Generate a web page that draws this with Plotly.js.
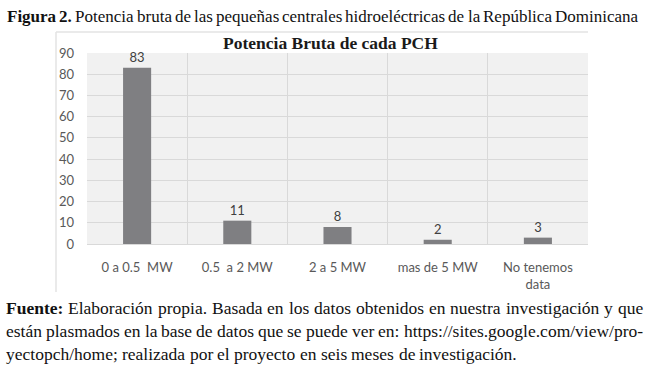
<!DOCTYPE html>
<html>
<head>
<meta charset="utf-8">
<script src="https://cdn.plot.ly/plotly-3.0.1.min.js"></script>
<style>html,body{margin:0;padding:0;background:#fff;}#chart{width:649px;height:384px;}</style>
</head>
<body>
<div id="chart"></div>
<svg id="measure" width="10" height="10" style="position:absolute;left:0;top:0;visibility:hidden"><text id="mtext" x="0" y="0"></text></svg>
<script>
const categories = ["0 a 0.5  MW", "0.5  a 2 MW", "2 a 5 MW", "mas de 5 MW", "No tenemos<br>data"];
const values = [83, 11, 8, 2, 3];
const yTicks = [0, 10, 20, 30, 40, 50, 60, 70, 80, 90];

const chartTitle = "Potencia Bruta de cada PCH";
const captionLabel = "Figura 2.";
const captionText = "Potencia bruta de las pequeñas centrales hidroeléctricas de la República Dominicana";
const footerLabel = "Fuente:";
const footerLines = [
  "Elaboración propia. Basada en los datos obtenidos en nuestra investigación y que",
  "están plasmados en la base de datos que se puede ver en: https://sites.google.com/view/pro-",
  "yectopch/home; realizada por el proyecto en seis meses de investigación."
];

// plot area in pixels
const L = 87, R = 588, T = 53, B = 244, W = 649, H = 384;
const pw = R - L, ph = B - T;
const px = x => (x - L) / pw;
const py = y => (B - y) / ph;

const serif = "Liberation Serif";
const sans = "Lato";

const mtext = document.getElementById("mtext");
function measure(t, size, bold) {
  mtext.setAttribute("style", "font-family:'" + serif + "';font-size:" + size + "px;font-weight:" + (bold ? "bold" : "normal") + ";white-space:pre");
  mtext.textContent = t;
  return mtext.getComputedTextLength();
}

const annotations = [];
function addWord(t, x, y, size, bold) {
  annotations.push({text: bold ? "<b>" + t + "</b>" : t, x: px(x), y: py(y), xref: "paper", yref: "paper",
    xanchor: "left", yanchor: "middle", showarrow: false, borderpad: 0, borderwidth: 0,
    font: {family: serif, size: size, color: "#111"}});
}
// words: array of {t, bold}; justify between x0 and x1 (or natural spacing if x1 null)
function layoutLine(words, x0, x1, y, size) {
  const widths = words.map(w => measure(w.t, size, w.bold));
  const total = widths.reduce((a, b) => a + b, 0);
  const space = measure("a a", size, false) - 2 * measure("a", size, false);
  const gap = (x1 != null && words.length > 1) ? (x1 - x0 - total) / (words.length - 1) : space;
  let x = x0;
  words.forEach((w, i) => { addWord(w.t, x, y, size, w.bold); x += widths[i] + gap; });
}
const toWords = s => s.split(" ").map(t => ({t: t, bold: false}));

layoutLine(captionLabel.split(" ").map(t => ({t: t, bold: true})).concat(toWords(captionText)), 7, 638, 16, 17);
layoutLine([{t: footerLabel, bold: true}].concat(toWords(footerLines[0])), 6, 643, 308, 17.5);
layoutLine(toWords(footerLines[1]), 6, 643, 331, 17.5);
layoutLine(toWords(footerLines[2]), 6, null, 354, 17.5);
mtext.textContent = "";
document.getElementById("measure").remove();

annotations.push({text: "<b>" + chartTitle + "</b>", x: px(330), y: py(43), xref: "paper", yref: "paper",
  xanchor: "center", yanchor: "middle", showarrow: false, font: {family: serif, size: 17.5, color: "#1a1a1a"}});

const trace = {
  type: "bar",
  x: categories,
  y: values,
  width: 0.28,
  marker: {color: "#7f7f82"},
  text: values.map(String),
  textposition: "outside",
  textfont: {family: sans, size: 13, color: "#404040"},
  cliponaxis: false,
  hoverinfo: "x+y"
};

const layout = {
  width: W, height: H,
  margin: {l: L, r: W - R, t: T, b: H - B, pad: 0},
  paper_bgcolor: "#ffffff",
  plot_bgcolor: "#f1f1f1",
  showlegend: false,
  xaxis: {
    type: "category",
    tickson: "boundaries",
    showgrid: true, gridcolor: "#d9d9d9", gridwidth: 1,
    ticks: "", showline: false,
    ticklabelstandoff: 14,
    tickfont: {family: sans, size: 13, color: "#595959"},
    fixedrange: true
  },
  yaxis: {
    range: [0, 90],
    tickvals: yTicks,
    showgrid: true, gridcolor: "#d9d9d9", gridwidth: 1,
    zeroline: true, zerolinecolor: "#d9d9d9",
    ticks: "", showline: false,
    ticklabelstandoff: 12,
    tickfont: {family: sans, size: 13, color: "#595959"},
    fixedrange: true
  },
  shapes: [
    {type: "line", xref: "paper", yref: "paper", x0: px(56), x1: px(588), y0: py(32), y1: py(32), line: {color: "#e3e3e3", width: 1.5}},
    {type: "line", xref: "paper", yref: "paper", x0: px(56), x1: px(56), y0: py(32), y1: py(292), line: {color: "#e3e3e3", width: 1.5}}
  ],
  annotations: annotations
};

Plotly.newPlot("chart", [trace], layout, {displayModeBar: false, staticPlot: true});
</script>
</body>
</html>
